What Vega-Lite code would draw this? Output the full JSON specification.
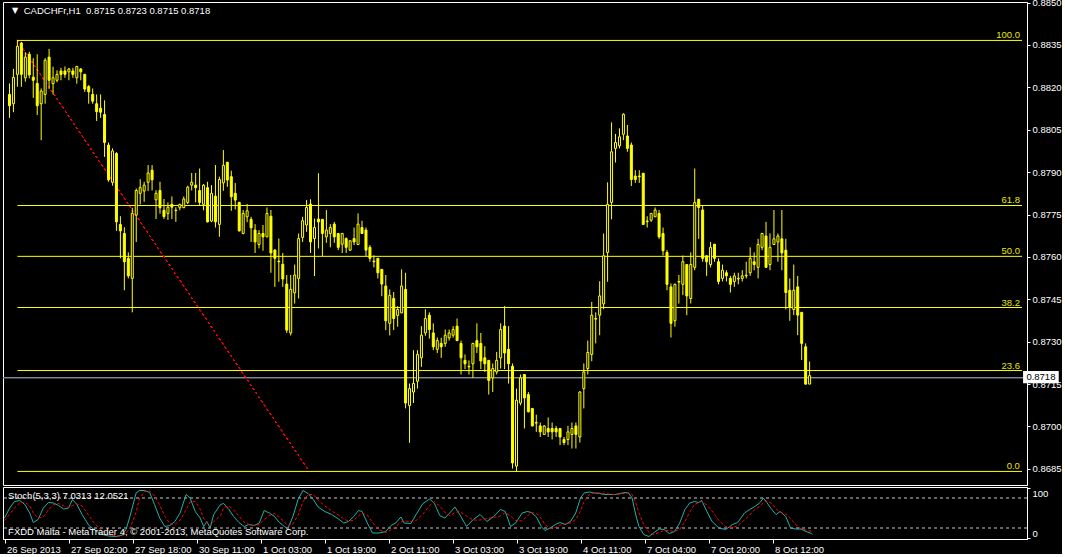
{
"$schema": "https://vega.github.io/schema/vega-lite/v6.json",
"background": "black",
"padding": {"left": 2, "top": -3, "right": 0, "bottom": 0},
"spacing": 2,
"bounds": "flush",
"config": {
  "view": {"stroke": "white", "strokeWidth": 1},
  "axis": {"labelFont": "Liberation Sans", "labelFontSize": 9.5, "labelColor": "white", "domainColor": "white", "tickColor": "white", "grid": false, "title": null},
  "text": {"font": "Liberation Sans", "fontSize": 9.5}
},
"datasets": {
  "candles": [
{"i":0,"o":0.88175,"h":0.88214,"l":0.88092,"c":0.88135},
{"i":1,"o":0.88142,"h":0.88265,"l":0.88112,"c":0.88235},
{"i":2,"o":0.88246,"h":0.88368,"l":0.88202,"c":0.88345},
{"i":3,"o":0.88357,"h":0.88361,"l":0.88202,"c":0.88246},
{"i":4,"o":0.88234,"h":0.88324,"l":0.8822,"c":0.88307},
{"i":5,"o":0.88317,"h":0.88326,"l":0.88232,"c":0.88244},
{"i":6,"o":0.88236,"h":0.88303,"l":0.88163,"c":0.88225},
{"i":7,"o":0.88214,"h":0.88317,"l":0.88102,"c":0.88135},
{"i":8,"o":0.88142,"h":0.88196,"l":0.88013,"c":0.88187},
{"i":9,"o":0.88175,"h":0.88303,"l":0.88142,"c":0.88296},
{"i":10,"o":0.88307,"h":0.88336,"l":0.88194,"c":0.88225},
{"i":11,"o":0.88213,"h":0.88273,"l":0.88175,"c":0.88234},
{"i":12,"o":0.88225,"h":0.8826,"l":0.88218,"c":0.88246},
{"i":13,"o":0.88258,"h":0.88269,"l":0.88225,"c":0.88246},
{"i":14,"o":0.88258,"h":0.88274,"l":0.88234,"c":0.88246},
{"i":15,"o":0.88255,"h":0.88269,"l":0.88225,"c":0.88265},
{"i":16,"o":0.88258,"h":0.88269,"l":0.88234,"c":0.88246},
{"i":17,"o":0.88234,"h":0.88276,"l":0.88213,"c":0.88274},
{"i":18,"o":0.88265,"h":0.88268,"l":0.88225,"c":0.88255},
{"i":19,"o":0.88246,"h":0.88248,"l":0.88184,"c":0.88194},
{"i":20,"o":0.88203,"h":0.88208,"l":0.88142,"c":0.88184},
{"i":21,"o":0.88175,"h":0.88196,"l":0.88142,"c":0.88151},
{"i":22,"o":0.88142,"h":0.88175,"l":0.88081,"c":0.88114},
{"i":23,"o":0.88126,"h":0.88175,"l":0.88092,"c":0.88112},
{"i":24,"o":0.88104,"h":0.88154,"l":0.87954,"c":0.88005},
{"i":25,"o":0.87996,"h":0.88005,"l":0.87866,"c":0.87873},
{"i":26,"o":0.87864,"h":0.87984,"l":0.87852,"c":0.87975},
{"i":27,"o":0.87966,"h":0.87971,"l":0.87692,"c":0.87724},
{"i":28,"o":0.87715,"h":0.87744,"l":0.87595,"c":0.87692},
{"i":29,"o":0.87683,"h":0.87705,"l":0.87482,"c":0.87583},
{"i":30,"o":0.87595,"h":0.87616,"l":0.87524,"c":0.87533},
{"i":31,"o":0.87524,"h":0.87774,"l":0.87404,"c":0.87754},
{"i":32,"o":0.87748,"h":0.87842,"l":0.87653,"c":0.87835},
{"i":33,"o":0.87825,"h":0.87875,"l":0.87786,"c":0.87845},
{"i":34,"o":0.87833,"h":0.87866,"l":0.87795,"c":0.87854},
{"i":35,"o":0.87864,"h":0.87925,"l":0.87833,"c":0.87897},
{"i":36,"o":0.87907,"h":0.87925,"l":0.87835,"c":0.87873},
{"i":37,"o":0.87802,"h":0.87836,"l":0.87734,"c":0.87825},
{"i":38,"o":0.87835,"h":0.87866,"l":0.87753,"c":0.87774},
{"i":39,"o":0.87765,"h":0.87805,"l":0.87734,"c":0.87743},
{"i":40,"o":0.87754,"h":0.87793,"l":0.87731,"c":0.87776},
{"i":41,"o":0.87786,"h":0.87814,"l":0.87734,"c":0.87776},
{"i":42,"o":0.87765,"h":0.87776,"l":0.87724,"c":0.87764},
{"i":43,"o":0.87774,"h":0.87788,"l":0.87765,"c":0.87786},
{"i":44,"o":0.87774,"h":0.87814,"l":0.87773,"c":0.87805},
{"i":45,"o":0.87793,"h":0.87852,"l":0.87787,"c":0.87847},
{"i":46,"o":0.87854,"h":0.87897,"l":0.87835,"c":0.87864},
{"i":47,"o":0.87854,"h":0.87897,"l":0.87793,"c":0.87845},
{"i":48,"o":0.87835,"h":0.87913,"l":0.87783,"c":0.87793},
{"i":49,"o":0.87786,"h":0.87858,"l":0.87765,"c":0.87854},
{"i":50,"o":0.87845,"h":0.87866,"l":0.87722,"c":0.87724},
{"i":51,"o":0.87727,"h":0.87854,"l":0.87723,"c":0.87825},
{"i":52,"o":0.87815,"h":0.87925,"l":0.87704,"c":0.87724},
{"i":53,"o":0.87715,"h":0.87884,"l":0.87671,"c":0.87874},
{"i":54,"o":0.87862,"h":0.87978,"l":0.87834,"c":0.87924},
{"i":55,"o":0.87935,"h":0.87936,"l":0.87848,"c":0.87872},
{"i":56,"o":0.87884,"h":0.87905,"l":0.87763,"c":0.87813},
{"i":57,"o":0.87825,"h":0.87862,"l":0.87768,"c":0.87801},
{"i":58,"o":0.87793,"h":0.87795,"l":0.8769,"c":0.87692},
{"i":59,"o":0.87683,"h":0.87766,"l":0.8768,"c":0.87754},
{"i":60,"o":0.87742,"h":0.87787,"l":0.87723,"c":0.87763},
{"i":61,"o":0.87733,"h":0.87742,"l":0.87653,"c":0.87703},
{"i":62,"o":0.87695,"h":0.87716,"l":0.87614,"c":0.87653},
{"i":63,"o":0.87644,"h":0.87695,"l":0.8763,"c":0.87683},
{"i":64,"o":0.87683,"h":0.87713,"l":0.87622,"c":0.87671},
{"i":65,"o":0.87671,"h":0.87775,"l":0.8767,"c":0.87754},
{"i":66,"o":0.87744,"h":0.87766,"l":0.87544,"c":0.87614},
{"i":67,"o":0.87624,"h":0.87628,"l":0.87494,"c":0.87595},
{"i":68,"o":0.87585,"h":0.87665,"l":0.87512,"c":0.87583},
{"i":69,"o":0.87574,"h":0.87614,"l":0.87494,"c":0.87522},
{"i":70,"o":0.87504,"h":0.87536,"l":0.87331,"c":0.87341},
{"i":71,"o":0.87331,"h":0.87536,"l":0.87322,"c":0.87485},
{"i":72,"o":0.87473,"h":0.87573,"l":0.87435,"c":0.87536},
{"i":73,"o":0.87524,"h":0.87683,"l":0.87453,"c":0.87665},
{"i":74,"o":0.87669,"h":0.87742,"l":0.87653,"c":0.87728},
{"i":75,"o":0.87713,"h":0.87801,"l":0.87689,"c":0.87775},
{"i":76,"o":0.87787,"h":0.87804,"l":0.87614,"c":0.87653},
{"i":77,"o":0.87665,"h":0.87736,"l":0.87532,"c":0.87704},
{"i":78,"o":0.87734,"h":0.87896,"l":0.8763,"c":0.87724},
{"i":79,"o":0.87733,"h":0.87734,"l":0.87603,"c":0.87683},
{"i":80,"o":0.87671,"h":0.87766,"l":0.8765,"c":0.87695},
{"i":81,"o":0.87683,"h":0.87716,"l":0.87634,"c":0.87704},
{"i":82,"o":0.87716,"h":0.87724,"l":0.8765,"c":0.87671},
{"i":83,"o":0.87683,"h":0.87684,"l":0.87624,"c":0.87634},
{"i":84,"o":0.87645,"h":0.87685,"l":0.87614,"c":0.87683},
{"i":85,"o":0.87665,"h":0.87669,"l":0.87614,"c":0.87634},
{"i":86,"o":0.87624,"h":0.87659,"l":0.87621,"c":0.87657},
{"i":87,"o":0.87665,"h":0.87704,"l":0.87642,"c":0.87653},
{"i":88,"o":0.87644,"h":0.87754,"l":0.87642,"c":0.87716},
{"i":89,"o":0.87704,"h":0.87728,"l":0.87681,"c":0.87683},
{"i":90,"o":0.87695,"h":0.87704,"l":0.87603,"c":0.87624},
{"i":91,"o":0.87634,"h":0.87642,"l":0.87583,"c":0.87595},
{"i":92,"o":0.87585,"h":0.87606,"l":0.87563,"c":0.87583},
{"i":93,"o":0.87595,"h":0.87596,"l":0.87524,"c":0.87544},
{"i":94,"o":0.87556,"h":0.87557,"l":0.87461,"c":0.87504},
{"i":95,"o":0.87497,"h":0.87536,"l":0.87341,"c":0.87374},
{"i":96,"o":0.87365,"h":0.87485,"l":0.87322,"c":0.87464},
{"i":97,"o":0.87453,"h":0.87476,"l":0.87341,"c":0.87382},
{"i":98,"o":0.87393,"h":0.87426,"l":0.87353,"c":0.87414},
{"i":99,"o":0.87402,"h":0.87556,"l":0.87401,"c":0.87497},
{"i":100,"o":0.87485,"h":0.87544,"l":0.87064,"c":0.87083},
{"i":101,"o":0.87074,"h":0.87152,"l":0.86942,"c":0.87134},
{"i":102,"o":0.87122,"h":0.8727,"l":0.87083,"c":0.87152},
{"i":103,"o":0.8716,"h":0.8727,"l":0.87134,"c":0.87255},
{"i":104,"o":0.87243,"h":0.87355,"l":0.87211,"c":0.87323},
{"i":105,"o":0.87331,"h":0.87415,"l":0.87321,"c":0.87382},
{"i":106,"o":0.87394,"h":0.87404,"l":0.87311,"c":0.87343},
{"i":107,"o":0.87331,"h":0.87365,"l":0.8727,"c":0.87282},
{"i":108,"o":0.87273,"h":0.87315,"l":0.8726,"c":0.87304},
{"i":109,"o":0.87294,"h":0.87314,"l":0.87243,"c":0.87282},
{"i":110,"o":0.87294,"h":0.87343,"l":0.87282,"c":0.87323},
{"i":111,"o":0.87314,"h":0.87343,"l":0.87304,"c":0.87331},
{"i":112,"o":0.87323,"h":0.87355,"l":0.87314,"c":0.87343},
{"i":113,"o":0.87355,"h":0.87382,"l":0.87302,"c":0.87304},
{"i":114,"o":0.87294,"h":0.87304,"l":0.87184,"c":0.87243},
{"i":115,"o":0.87234,"h":0.87255,"l":0.87203,"c":0.87222},
{"i":116,"o":0.87213,"h":0.87234,"l":0.87184,"c":0.87211},
{"i":117,"o":0.87222,"h":0.87296,"l":0.87172,"c":0.87294},
{"i":118,"o":0.87304,"h":0.87365,"l":0.8726,"c":0.87282},
{"i":119,"o":0.87294,"h":0.87331,"l":0.87203,"c":0.87232},
{"i":120,"o":0.87243,"h":0.87284,"l":0.87193,"c":0.87222},
{"i":121,"o":0.87234,"h":0.87235,"l":0.87113,"c":0.87163},
{"i":122,"o":0.87172,"h":0.87223,"l":0.87122,"c":0.87205},
{"i":123,"o":0.87193,"h":0.87264,"l":0.87184,"c":0.87234},
{"i":124,"o":0.87243,"h":0.87365,"l":0.87205,"c":0.87343},
{"i":125,"o":0.87355,"h":0.87426,"l":0.87203,"c":0.8726},
{"i":126,"o":0.87273,"h":0.87355,"l":0.87152,"c":0.87222},
{"i":127,"o":0.87213,"h":0.87223,"l":0.86851,"c":0.86871},
{"i":128,"o":0.8686,"h":0.87134,"l":0.86839,"c":0.87093},
{"i":129,"o":0.87083,"h":0.87184,"l":0.87075,"c":0.87172},
{"i":130,"o":0.87184,"h":0.87185,"l":0.86993,"c":0.87101},
{"i":131,"o":0.87113,"h":0.87122,"l":0.8705,"c":0.87052},
{"i":132,"o":0.87064,"h":0.87065,"l":0.87,"c":0.87002},
{"i":133,"o":0.87014,"h":0.87042,"l":0.86981,"c":0.87012},
{"i":134,"o":0.87002,"h":0.87014,"l":0.86963,"c":0.86981},
{"i":135,"o":0.86972,"h":0.87005,"l":0.86971,"c":0.87002},
{"i":136,"o":0.86993,"h":0.87032,"l":0.86963,"c":0.86981},
{"i":137,"o":0.86993,"h":0.87014,"l":0.86954,"c":0.86981},
{"i":138,"o":0.86993,"h":0.87002,"l":0.86963,"c":0.86981},
{"i":139,"o":0.86993,"h":0.86994,"l":0.86934,"c":0.86963},
{"i":140,"o":0.86954,"h":0.86963,"l":0.86934,"c":0.86943},
{"i":141,"o":0.86954,"h":0.87002,"l":0.86934,"c":0.86981},
{"i":142,"o":0.86972,"h":0.87014,"l":0.86922,"c":0.86993},
{"i":143,"o":0.87002,"h":0.87014,"l":0.86922,"c":0.86972},
{"i":144,"o":0.86963,"h":0.87125,"l":0.86943,"c":0.87122},
{"i":145,"o":0.87134,"h":0.87223,"l":0.87064,"c":0.87193},
{"i":146,"o":0.87205,"h":0.87304,"l":0.87184,"c":0.87262},
{"i":147,"o":0.87255,"h":0.87441,"l":0.87231,"c":0.87394},
{"i":148,"o":0.87382,"h":0.87404,"l":0.87294,"c":0.8738},
{"i":149,"o":0.87394,"h":0.87514,"l":0.87323,"c":0.87462},
{"i":150,"o":0.87434,"h":0.87683,"l":0.87415,"c":0.87604},
{"i":151,"o":0.87616,"h":0.87864,"l":0.87512,"c":0.87786},
{"i":152,"o":0.87793,"h":0.88076,"l":0.87733,"c":0.87972},
{"i":153,"o":0.87984,"h":0.88035,"l":0.87934,"c":0.88005},
{"i":154,"o":0.87993,"h":0.88055,"l":0.87984,"c":0.88025},
{"i":155,"o":0.88034,"h":0.88108,"l":0.88013,"c":0.88105},
{"i":156,"o":0.88028,"h":0.88067,"l":0.87972,"c":0.87984},
{"i":157,"o":0.87996,"h":0.88005,"l":0.87851,"c":0.87874},
{"i":158,"o":0.87886,"h":0.87907,"l":0.87862,"c":0.87874},
{"i":159,"o":0.87886,"h":0.87907,"l":0.87862,"c":0.87884},
{"i":160,"o":0.87896,"h":0.87897,"l":0.87713,"c":0.87715},
{"i":161,"o":0.87727,"h":0.87744,"l":0.87704,"c":0.87725},
{"i":162,"o":0.8773,"h":0.87755,"l":0.87724,"c":0.87754},
{"i":163,"o":0.87742,"h":0.87775,"l":0.87741,"c":0.87766},
{"i":164,"o":0.87754,"h":0.87766,"l":0.87664,"c":0.87671},
{"i":165,"o":0.87683,"h":0.87704,"l":0.87605,"c":0.87622},
{"i":166,"o":0.87616,"h":0.87624,"l":0.87482,"c":0.87503},
{"i":167,"o":0.87494,"h":0.87506,"l":0.87315,"c":0.87365},
{"i":168,"o":0.87374,"h":0.87506,"l":0.87353,"c":0.87503},
{"i":169,"o":0.87513,"h":0.87536,"l":0.87435,"c":0.87511},
{"i":170,"o":0.87503,"h":0.87605,"l":0.87465,"c":0.87583},
{"i":171,"o":0.87573,"h":0.87574,"l":0.87394,"c":0.87462},
{"i":172,"o":0.87453,"h":0.87616,"l":0.87435,"c":0.87573},
{"i":173,"o":0.87563,"h":0.87913,"l":0.87553,"c":0.87793},
{"i":174,"o":0.87804,"h":0.87805,"l":0.87664,"c":0.87775},
{"i":175,"o":0.87766,"h":0.87783,"l":0.87583,"c":0.87595},
{"i":176,"o":0.87604,"h":0.87605,"l":0.87533,"c":0.87583},
{"i":177,"o":0.87573,"h":0.87653,"l":0.87563,"c":0.87634},
{"i":178,"o":0.87645,"h":0.87646,"l":0.87583,"c":0.87595},
{"i":179,"o":0.87583,"h":0.87595,"l":0.87503,"c":0.87513},
{"i":180,"o":0.87524,"h":0.87573,"l":0.87513,"c":0.87553},
{"i":181,"o":0.87544,"h":0.87553,"l":0.87513,"c":0.87533},
{"i":182,"o":0.87524,"h":0.87533,"l":0.87474,"c":0.87503},
{"i":183,"o":0.87513,"h":0.87544,"l":0.87494,"c":0.87533},
{"i":184,"o":0.87524,"h":0.87544,"l":0.87503,"c":0.87522},
{"i":185,"o":0.87524,"h":0.87553,"l":0.87513,"c":0.87533},
{"i":186,"o":0.87533,"h":0.87583,"l":0.87524,"c":0.87535},
{"i":187,"o":0.87544,"h":0.87634,"l":0.87533,"c":0.87595},
{"i":188,"o":0.87583,"h":0.87616,"l":0.87553,"c":0.87573},
{"i":189,"o":0.87563,"h":0.87664,"l":0.87524,"c":0.87644},
{"i":190,"o":0.87634,"h":0.87685,"l":0.87624,"c":0.87683},
{"i":191,"o":0.87674,"h":0.87724,"l":0.87561,"c":0.87563},
{"i":192,"o":0.87573,"h":0.87683,"l":0.87553,"c":0.87634},
{"i":193,"o":0.87644,"h":0.87766,"l":0.87643,"c":0.87664},
{"i":194,"o":0.87653,"h":0.87683,"l":0.87583,"c":0.87674},
{"i":195,"o":0.87664,"h":0.87766,"l":0.87553,"c":0.87614},
{"i":196,"o":0.87624,"h":0.87664,"l":0.87414,"c":0.87474},
{"i":197,"o":0.87482,"h":0.87524,"l":0.87374,"c":0.87423},
{"i":198,"o":0.87414,"h":0.87573,"l":0.87394,"c":0.87482},
{"i":199,"o":0.87494,"h":0.87533,"l":0.87323,"c":0.87394},
{"i":200,"o":0.87404,"h":0.87405,"l":0.87235,"c":0.87294},
{"i":201,"o":0.87282,"h":0.87294,"l":0.87148,"c":0.8715},
{"i":202,"o":0.8715,"h":0.8723,"l":0.8715,"c":0.8718}
  ],
  "stoch": [
{"b":0,"k":40,"d":35},{"b":1.3,"k":60,"d":48},{"b":2.5,"k":73,"d":60},{"b":3.8,"k":75,"d":70},{"b":5.1,"k":67,"d":72},
{"b":6.3,"k":50,"d":64},{"b":7.2,"k":31,"d":50},{"b":8.4,"k":37,"d":40},{"b":9.7,"k":60,"d":42},{"b":11,"k":71,"d":56},
{"b":12.2,"k":70,"d":67},{"b":13.5,"k":65,"d":69},{"b":14.8,"k":58,"d":64},{"b":16,"k":60,"d":61},{"b":17,"k":77,"d":65},
{"b":18.1,"k":67,"d":68},{"b":19.4,"k":47,"d":64},{"b":21.1,"k":25,"d":45},{"b":22.4,"k":17,"d":30},{"b":24,"k":8,"d":17},
{"b":26,"k":4,"d":7},{"b":28,"k":3,"d":4},{"b":29.4,"k":6,"d":4},{"b":30.4,"k":17,"d":9},{"b":31.6,"k":50,"d":24},
{"b":32.9,"k":90,"d":52},{"b":33.7,"k":95,"d":78},{"b":35,"k":95,"d":93},{"b":36.3,"k":91,"d":94},{"b":37.5,"k":67,"d":84},
{"b":38.8,"k":40,"d":66},{"b":40.1,"k":23,"d":43},{"b":41.3,"k":25,"d":29},{"b":42.6,"k":33,"d":27},{"b":43.9,"k":50,"d":36},
{"b":45.4,"k":87,"d":57},{"b":46.4,"k":80,"d":72},{"b":47.7,"k":53,"d":73},{"b":48.9,"k":40,"d":58},{"b":49.8,"k":23,"d":39},
{"b":50.6,"k":33,"d":32},{"b":51.4,"k":20,"d":25},{"b":52.3,"k":47,"d":33},{"b":54,"k":67,"d":45},{"b":54.8,"k":69,"d":61},
{"b":56.1,"k":57,"d":64},{"b":57.3,"k":43,"d":56},{"b":58.6,"k":31,"d":44},{"b":59.9,"k":23,"d":32},{"b":61.1,"k":27,"d":27},
{"b":62.4,"k":25,"d":25},{"b":63.7,"k":30,"d":27},{"b":64.9,"k":55,"d":37},{"b":66.2,"k":50,"d":45},{"b":67.5,"k":43,"d":49},
{"b":68.7,"k":31,"d":41},{"b":70,"k":23,"d":32},{"b":70.8,"k":18,"d":24},{"b":72.1,"k":43,"d":28},{"b":73.4,"k":77,"d":46},
{"b":74.6,"k":95,"d":72},{"b":75.9,"k":89,"d":87},{"b":77.2,"k":77,"d":87},{"b":78.4,"k":62,"d":76},{"b":80.1,"k":53,"d":64},
{"b":81.8,"k":47,"d":54},{"b":83.5,"k":38,"d":46},{"b":84.8,"k":30,"d":38},{"b":86,"k":33,"d":34},{"b":87.3,"k":43,"d":35},
{"b":88.5,"k":55,"d":44},{"b":89.4,"k":53,"d":50},{"b":90.7,"k":30,"d":46},{"b":92,"k":10,"d":31},{"b":93.6,"k":10,"d":17},
{"b":95.3,"k":13,"d":11},{"b":96.6,"k":25,"d":16},{"b":97.8,"k":30,"d":23},{"b":99.1,"k":42,"d":32},{"b":99.9,"k":30,"d":34},
{"b":101.6,"k":29,"d":33},{"b":102.9,"k":47,"d":35},{"b":104.6,"k":69,"d":48},{"b":106.3,"k":78,"d":65},{"b":107.5,"k":69,"d":72},
{"b":108.8,"k":45,"d":64},{"b":110.1,"k":40,"d":51},{"b":111.3,"k":50,"d":45},{"b":112.6,"k":62,"d":51},{"b":113.8,"k":47,"d":53},
{"b":115.5,"k":23,"d":44},{"b":117.2,"k":37,"d":36},{"b":118.9,"k":47,"d":36},{"b":120.6,"k":33,"d":39},{"b":122.3,"k":43,"d":41},
{"b":124,"k":57,"d":44},{"b":125.2,"k":53,"d":51},{"b":126.5,"k":23,"d":44},{"b":127.8,"k":30,"d":35},{"b":129.4,"k":50,"d":34},
{"b":130.7,"k":53,"d":44},{"b":131.7,"k":51,"d":51},{"b":133,"k":42,"d":49},{"b":134.2,"k":23,"d":39},{"b":135.1,"k":15,"d":27},
{"b":136.4,"k":20,"d":19},{"b":137.7,"k":27,"d":21},{"b":138.9,"k":31,"d":26},{"b":140.2,"k":27,"d":28},{"b":141.5,"k":33,"d":30},
{"b":142.8,"k":50,"d":37},{"b":144,"k":80,"d":54},{"b":144.9,"k":90,"d":73},{"b":146.2,"k":92,"d":87},{"b":147.5,"k":90,"d":91},
{"b":148.7,"k":89,"d":90},{"b":150,"k":87,"d":89},{"b":151.3,"k":87,"d":88},{"b":152.6,"k":87,"d":87},{"b":153.9,"k":89,"d":88},
{"b":155.1,"k":91,"d":89},{"b":156,"k":90,"d":90},{"b":156.9,"k":80,"d":87},{"b":157.7,"k":50,"d":73},{"b":158.6,"k":23,"d":51},
{"b":159.8,"k":7,"d":27},{"b":161.1,"k":3,"d":11},{"b":162.4,"k":11,"d":7},{"b":163.7,"k":18,"d":11},{"b":164.9,"k":17,"d":15},
{"b":166.2,"k":9,"d":15},{"b":167.5,"k":13,"d":13},{"b":168.8,"k":30,"d":17},{"b":170.1,"k":57,"d":33},{"b":171.3,"k":70,"d":52},
{"b":172.5,"k":73,"d":67},{"b":173.5,"k":71,"d":71},{"b":174.3,"k":75,"d":73},{"b":175.6,"k":53,"d":66},{"b":176.9,"k":33,"d":54},
{"b":178.6,"k":20,"d":35},{"b":180.3,"k":17,"d":23},{"b":182,"k":27,"d":21},{"b":183.3,"k":31,"d":25},{"b":185,"k":50,"d":36},
{"b":186.3,"k":57,"d":46},{"b":187.6,"k":63,"d":57},{"b":188.9,"k":71,"d":64},{"b":189.7,"k":80,"d":71},{"b":190.6,"k":71,"d":74},
{"b":191.8,"k":57,"d":69},{"b":192.9,"k":47,"d":58},{"b":193.9,"k":53,"d":52},{"b":195.3,"k":43,"d":48},{"b":196.5,"k":20,"d":39},
{"b":197.8,"k":18,"d":27},{"b":199.1,"k":18,"d":19},{"b":200.4,"k":13,"d":16},{"b":201.7,"k":9,"d":13},{"b":202,"k":7.03,"d":12.05}
  ],
  "fib": [
{"lvl":"100.0","p":0.88366},{"lvl":"61.8","p":0.87782},{"lvl":"50.0","p":0.87602},
{"lvl":"38.2","p":0.87421},{"lvl":"23.6","p":0.87198},{"lvl":"0.0","p":0.86841}
  ],
  "stochLevels": [{"v":20},{"v":80}]
},
"vconcat": [
{
  "width": 1024, "height": 483,
  "layer": [
    {"data": {"name": "fib"}, "mark": {"type": "rule", "color": "#ffff00", "strokeWidth": 1},
     "encoding": {
       "x": {"datum": 2, "type": "quantitative", "scale": {"domain": [-0.375, 255.625], "nice": false, "zero": false}, "axis": null},
       "x2": {"datum": 255.625},
       "y": {"field": "p", "type": "quantitative", "scale": {"domain": [0.86793, 0.88502], "nice": false, "zero": false},
             "axis": {"orient": "right", "values": [0.885, 0.8835, 0.882, 0.8805, 0.879, 0.8775, 0.876, 0.8745, 0.873, 0.8715, 0.87, 0.8685], "format": ".4f", "tickSize": 3, "labelPadding": 2, "labelOverlap": false, "labelBound": false}}
     }},
    {"data": {"name": "fib"}, "mark": {"type": "rule", "color": "#7c8896", "strokeWidth": 1},
     "encoding": {"y": {"datum": 0.87173, "type": "quantitative"}}},
    {"data": {"name": "fib"}, "mark": {"type": "rule", "color": "#ff0000", "strokeWidth": 1, "strokeDash": [2, 3]},
     "encoding": {"x": {"datum": 2, "type": "quantitative"}, "x2": {"datum": 75.5}, "y": {"datum": 0.88366, "type": "quantitative"}, "y2": {"datum": 0.86845}}},
    {"data": {"name": "candles"}, "mark": {"type": "rule", "color": "#ffff00", "strokeWidth": 1},
     "encoding": {"x": {"field": "i", "type": "quantitative"}, "y": {"field": "l", "type": "quantitative"}, "y2": {"field": "h"}}},
    {"data": {"name": "candles"}, "mark": {"type": "bar", "width": 2, "stroke": "#ffff00", "strokeWidth": 1},
     "encoding": {"x": {"field": "i", "type": "quantitative"}, "y": {"field": "o", "type": "quantitative"}, "y2": {"field": "c"},
       "fill": {"condition": {"test": "datum.c > datum.o", "value": "black"}, "value": "#ffff00"}}},
    {"data": {"name": "fib"}, "mark": {"type": "text", "color": "#e8e800", "align": "right", "baseline": "bottom", "fontSize": 9.5},
     "encoding": {"x": {"datum": 255.1, "type": "quantitative"}, "y": {"field": "p", "type": "quantitative"}, "text": {"field": "lvl"}}},
    {"data": {"values": [{"t": "▼"}]}, "mark": {"type": "text", "color": "white", "align": "center", "baseline": "middle", "fontSize": 8, "font": "DejaVu Sans"},
     "encoding": {"x": {"datum": 1.4, "type": "quantitative"}, "y": {"datum": 0.8847, "type": "quantitative"}, "text": {"field": "t"}}},
    {"data": {"values": [{"t": "CADCHFr,H1\u00a0\u00a00.8715 0.8723 0.8715 0.8718"}]}, "mark": {"type": "text", "color": "white", "align": "left", "baseline": "middle", "fontSize": 9.5},
     "encoding": {"x": {"datum": 3.6, "type": "quantitative"}, "y": {"datum": 0.8847, "type": "quantitative"}, "text": {"field": "t"}}},
    {"data": {"values": [{"t": "0.8718"}]}, "mark": {"type": "rect", "color": "white"},
     "encoding": {"x": {"datum": 255.9, "type": "quantitative"}, "x2": {"datum": 264.9}, "y": {"datum": 0.87196, "type": "quantitative"}, "y2": {"datum": 0.87153}}},
    {"data": {"values": [{"t": "0.8718"}]}, "mark": {"type": "text", "color": "black", "align": "center", "baseline": "middle", "fontSize": 9.5},
     "encoding": {"x": {"datum": 260.4, "type": "quantitative"}, "y": {"datum": 0.87175, "type": "quantitative"}, "text": {"field": "t"}}}
  ]
},
{
  "width": 1024, "height": 52,
  "layer": [
    {"data": {"name": "stochLevels"}, "mark": {"type": "rule", "color": "#c8c8c8", "strokeDash": [3, 3], "strokeWidth": 1},
     "encoding": {"y": {"field": "v", "type": "quantitative", "scale": {"domain": [-2, 102], "nice": false, "zero": false},
        "axis": {"orient": "right", "values": [0, 20, 80, 100], "tickSize": 3, "labelPadding": 2, "labelOverlap": false, "labelBound": false, "labelFlush": 3}}}},
    {"data": {"name": "stoch"}, "mark": {"type": "line", "color": "#20b2aa", "strokeWidth": 1},
     "encoding": {"x": {"field": "b", "type": "quantitative", "scale": {"domain": [-0.375, 255.625], "nice": false, "zero": false},
        "axis": {"values": [0, 16, 32, 48, 64, 80, 96, 112, 128, 144, 160, 176, 192], "tickSize": 4, "labelPadding": 1, "labelAlign": "left", "labelOffset": 2, "labelOverlap": false, "labelBound": false, "labelFlush": false,
          "labelExpr": "['26 Sep 2013','27 Sep 02:00','27 Sep 18:00','30 Sep 11:00','1 Oct 03:00','1 Oct 19:00','2 Oct 11:00','3 Oct 03:00','3 Oct 19:00','4 Oct 11:00','7 Oct 04:00','7 Oct 20:00','8 Oct 12:00'][round(datum.value/16)]"}},
        "y": {"field": "k", "type": "quantitative"}}},
    {"data": {"name": "stoch"}, "mark": {"type": "line", "color": "#ff0000", "strokeWidth": 1, "strokeDash": [3, 2]},
     "encoding": {"x": {"field": "b", "type": "quantitative"}, "y": {"field": "d", "type": "quantitative"}}},
    {"data": {"values": [{"t": "Stoch(5,3,3) 7.0313 12.0521"}]}, "mark": {"type": "text", "color": "white", "align": "left", "baseline": "middle", "fontSize": 9.5},
     "encoding": {"x": {"datum": 0.9, "type": "quantitative"}, "y": {"datum": 85, "type": "quantitative"}, "text": {"field": "t"}}},
    {"data": {"values": [{"t": "FXDD Malta - MetaTrader 4, © 2001-2013, MetaQuotes Software Corp."}]}, "mark": {"type": "text", "color": "white", "align": "left", "baseline": "middle", "fontSize": 9.5},
     "encoding": {"x": {"datum": 0.9, "type": "quantitative"}, "y": {"datum": 12, "type": "quantitative"}, "text": {"field": "t"}}}
  ]
}
]
}
